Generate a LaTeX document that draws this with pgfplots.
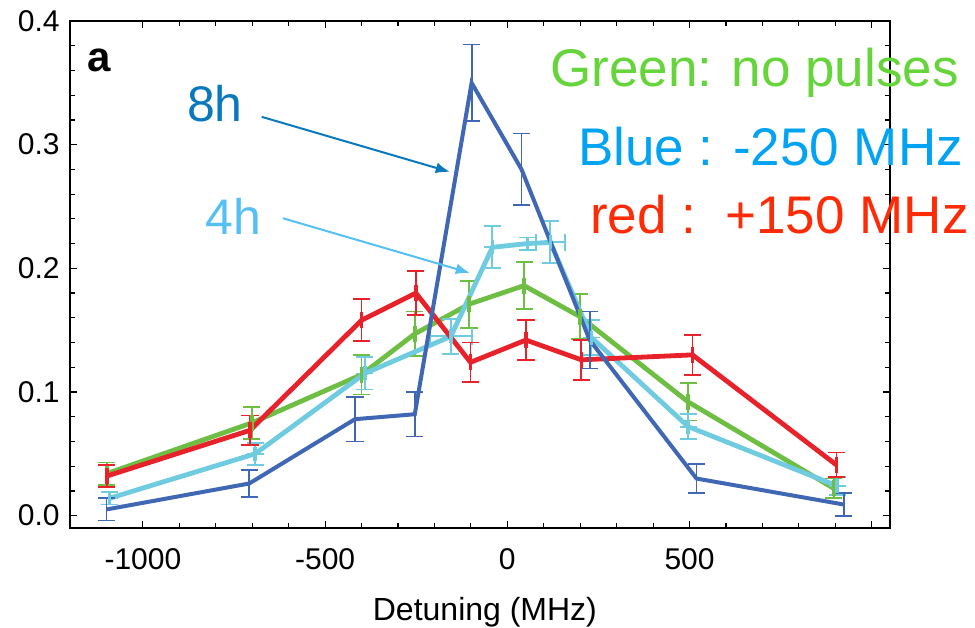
\documentclass[border=0pt]{standalone}
\usepackage{fontspec}
\setmainfont{Liberation Sans}
\usepackage{pgfplots}
\usepackage{pgfplotstable}
\pgfplotsset{compat=1.18}
\usetikzlibrary{arrows.meta}
\definecolor{cBlue}{HTML}{4067B3}
\definecolor{cGreen}{HTML}{6FBE44}
\definecolor{cRed}{HTML}{E8222A}
\definecolor{cCyan}{HTML}{6FCBDF}
\definecolor{tGreen}{HTML}{66D43B}
\definecolor{tBlue}{HTML}{02A3F2}
\definecolor{tRed}{HTML}{FF2B06}
\definecolor{aDark}{HTML}{0A78BD}
\definecolor{aLight}{HTML}{56C0F5}

\pgfplotstableread{
x y ey
-1100 0.005 0.009
-708 0.026 0.011
-418 0.078 0.018
-254 0.082 0.018
-98 0.350 0.031
39 0.280 0.029
226 0.142 0.023
519 0.030 0.012
923 0.009 0.009
}\blueTable

\pgfplotstableread{
x y ey
-1099 0.034 0.009
-701 0.075 0.013
-400 0.114 0.016
-254 0.147 0.018
-105 0.171 0.019
46 0.186 0.019
199 0.161 0.018
496 0.092 0.015
896 0.022 0.008
}\greenTable

\pgfplotstableread{
x y ey
-1099 0.032 0.009
-706 0.069 0.012
-400 0.158 0.017
-251 0.180 0.018
-101 0.124 0.016
51 0.142 0.016
203 0.126 0.016
508 0.130 0.016
903 0.041 0.010
}\redTable

\pgfplotstableread{
x y ex ey
-1092 0.014 0 0.005
-692 0.050 0 0.009
-391 0.115 0 0.013
-155 0.145 57 0.014
-41 0.217 0 0.017
55 0.220 0 0.005
118 0.221 40 0.017
231 0.144 0 0.014
496 0.072 0 0.010
905 0.024 0 0.007
}\cyanTable

\begin{document}
\begin{tikzpicture}
\useasboundingbox (-35pt,-49.5pt) rectangle (452.5pt,264pt);
\begin{axis}[
  at={(0,0)}, anchor=south west,
  scale only axis, width=410pt, height=253.5pt,
  xmin=-1200, xmax=1050, ymin=-0.01, ymax=0.4,
  clip=false,
  axis line style={line width=1pt},
  xtick={-1000,-500,0,500,1000},
  xticklabels={-1000,-500,0,500,{}},
  ytick={0,0.1,0.2,0.3,0.4},
  yticklabels={0.0,0.1,0.2,0.3,0.4},
  minor x tick num=4, minor y tick num=4,
  tick align=inside,
  major tick length=3.5pt, minor tick length=2.5pt,
  every tick/.style={black, line width=0.6pt},
  tick label style={font=\fontsize{15}{18}\selectfont},
  xticklabel style={anchor=north, inner sep=0pt, yshift=-10pt},
  yticklabel style={anchor=east, inner sep=0pt, xshift=-5pt},
  xlabel={Detuning (MHz)},
  xlabel style={font=\fontsize{16}{19}\selectfont, at={(axis description cs:0.506,0)}, anchor=base, inner sep=0pt, yshift=-46pt},
  error bars/error bar style={line width=0.9pt},
  error bars/error mark options={rotate=90, mark size=4.3pt, line width=0.9pt},
]
% green
\addplot[cGreen, line width=2.4pt, mark=|, mark size=4pt, mark options={line width=1.8pt},
  error bars/.cd, y dir=both, y explicit]
  table[x=x, y=y, y error=ey] {\greenTable};
% cyan
\addplot[cCyan, line width=2.4pt, mark=|, mark size=3.5pt, mark options={line width=1.8pt},
  error bars/.cd, y dir=both, y explicit, x dir=both, x explicit]
  table[x=x, y=y, x error=ex, y error=ey] {\cyanTable};
% red
\addplot[cRed, line width=2.4pt, mark=|, mark size=4pt, mark options={line width=1.8pt},
  error bars/.cd, y dir=both, y explicit]
  table[x=x, y=y, y error=ey] {\redTable};
% blue
\addplot[cBlue, line width=2pt, mark=none,
  error bars/.cd, y dir=both, y explicit]
  table[x=x, y=y, y error=ey] {\blueTable};

% annotations
\node[anchor=base west, inner sep=0pt, font=\fontsize{21}{24}\selectfont\bfseries] at (axis cs:-1153,0.359) {a};
\node[anchor=base west, inner sep=0pt, text=aDark, font=\fontsize{25}{30}\selectfont] at (axis cs:-880,0.3185) {8h};
\node[anchor=base west, inner sep=0pt, text=aLight, font=\fontsize{25}{30}\selectfont] at (axis cs:-829,0.227) {4h};
\draw[aDark, line width=1pt, -{Latex[length=7pt, width=5.5pt]}] (axis cs:-674,0.3225) -- (axis cs:-158,0.278);
\draw[aLight, line width=1pt, -{Latex[length=7pt, width=5.5pt]}] (axis cs:-616,0.2405) -- (axis cs:-103,0.1963);
\node[anchor=base west, inner sep=0pt, text=tGreen, font=\fontsize{26.5}{31}\selectfont] at (axis cs:116.5,0.3468) {Green: no pulses};
\node[anchor=base west, inner sep=0pt, text=tBlue, font=\fontsize{26.5}{31}\selectfont] at (axis cs:193,0.2835) {Blue : -250 MHz};
\node[anchor=base west, inner sep=0pt, text=tRed, font=\fontsize{26.5}{31}\selectfont] at (axis cs:226,0.2284) {red :\ \ +150 MHz};
\end{axis}
\end{tikzpicture}
\end{document}
